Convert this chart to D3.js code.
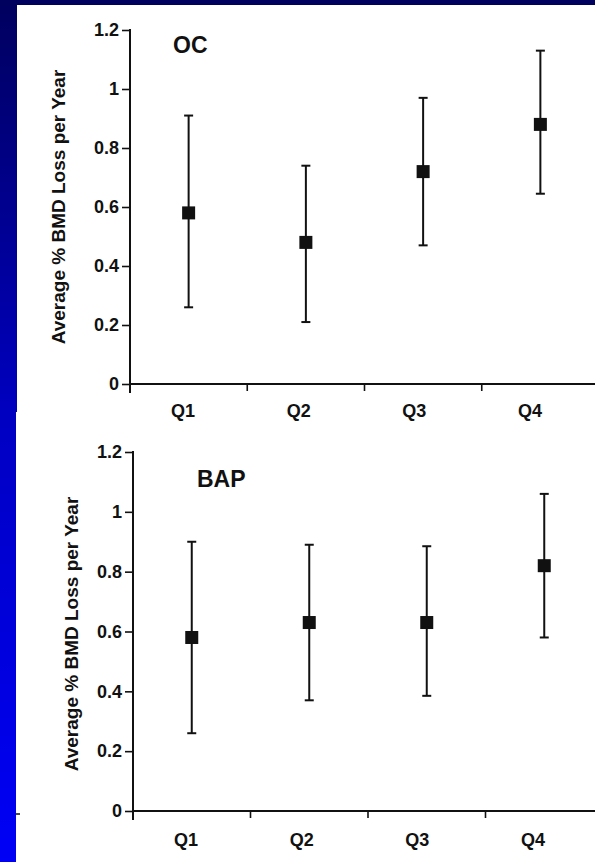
<!DOCTYPE html>
<html>
<head>
<meta charset="utf-8">
<script src="https://cdn.jsdelivr.net/npm/d3@7/dist/d3.min.js"></script>
<style>
  html, body { margin: 0; padding: 0; background: #fff; }
  svg { display: block; }
  text { font-family: "Liberation Sans", Arial, Helvetica, sans-serif; fill: #111; }
  .ytick text { font-size: 18px !important; font-weight: bold; }
</style>
</head>
<body>
<svg id="chart" width="595" height="862"></svg>
<script>
// ---------- data ----------
const categories = ["Q1", "Q2", "Q3", "Q4"];
const yTicks = [0, 0.2, 0.4, 0.6, 0.8, 1, 1.2];
const yTickLabels = ["0", "0.2", "0.4", "0.6", "0.8", "1", "1.2"];
const yLabel = "Average % BMD Loss per Year";

const ocMean  = [0.58, 0.48, 0.72, 0.88];
const ocLow   = [0.26, 0.21, 0.47, 0.645];
const ocHigh  = [0.91, 0.74, 0.97, 1.13];

const bapMean = [0.58, 0.63, 0.63, 0.82];
const bapLow  = [0.26, 0.37, 0.385, 0.58];
const bapHigh = [0.90, 0.89, 0.885, 1.06];

const panels = [
  { title: "OC",  mean: ocMean,  low: ocLow,  high: ocHigh,
    left: 130, right: 599, top: 30, bottom: 384, titleX: 173, titleY: 53,
    labelX: 58, labelY: 207, catLabelY: 417 },
  { title: "BAP", mean: bapMean, low: bapLow, high: bapHigh,
    left: 133, right: 603, top: 452, bottom: 811, titleX: 197, titleY: 487,
    labelX: 71, labelY: 634, catLabelY: 846 }
];

// ---------- background ----------
const svg = d3.select("#chart");
const defs = svg.append("defs");
const grad = defs.append("linearGradient").attr("id", "bg")
  .attr("x1", 0).attr("y1", 0).attr("x2", 0).attr("y2", 1);
grad.append("stop").attr("offset", "0%").attr("stop-color", "#00005e");
grad.append("stop").attr("offset", "50%").attr("stop-color", "#0000c4");
grad.append("stop").attr("offset", "100%").attr("stop-color", "#0000f6");
svg.append("rect").attr("width", 595).attr("height", 862).attr("fill", "url(#bg)");
svg.append("rect").attr("x", 17).attr("y", 5).attr("width", 578).attr("height", 408).attr("fill", "#fff");
svg.append("rect").attr("x", 16).attr("y", 412).attr("width", 579).attr("height", 450).attr("fill", "#fff");
svg.append("line").attr("x1", 16).attr("x2", 20).attr("y1", 814).attr("y2", 814)
  .attr("stroke", "#111").attr("stroke-width", 1.5);

// ---------- panels ----------
panels.forEach(p => {
  const g = svg.append("g");
  const x = d3.scaleBand().domain(categories).range([p.left, p.right]);
  const y = d3.scaleLinear().domain([0, 1.2]).range([p.bottom, p.top]);
  const labelScale = d3.scalePoint().domain(categories)
    .range([p.left + 53, p.left + 400]);

  // y axis
  const yAxis = d3.axisLeft(y).tickValues(yTicks)
    .tickFormat((d, i) => yTickLabels[i]).tickSizeInner(8).tickSizeOuter(0).tickPadding(3);
  const ya = g.append("g").attr("class", "ytick")
    .attr("transform", `translate(${p.left},0)`).call(yAxis);
  ya.attr("font-size", 18).attr("font-family", null);
  ya.select(".domain").remove();
  ya.selectAll(".tick line").attr("stroke", "#111").attr("stroke-width", 1.6);
  ya.selectAll(".tick text").attr("fill", "#111");
  g.append("line").attr("x1", p.left).attr("x2", p.left)
    .attr("y1", y(1.2) - 1).attr("y2", p.bottom + 9)
    .attr("stroke", "#111").attr("stroke-width", 2);

  // x axis
  g.append("line").attr("x1", p.left).attr("x2", 595)
    .attr("y1", p.bottom).attr("y2", p.bottom)
    .attr("stroke", "#111").attr("stroke-width", 2);
  g.selectAll(".xtick").data(categories.slice(1)).enter().append("line")
    .attr("x1", d => x(d)).attr("x2", d => x(d))
    .attr("y1", p.bottom).attr("y2", p.bottom + 7)
    .attr("stroke", "#111").attr("stroke-width", 1.6);
  g.selectAll(".xlab").data(categories).enter().append("text")
    .attr("x", d => labelScale(d)).attr("y", p.catLabelY)
    .attr("text-anchor", "middle").attr("font-size", 18).attr("font-weight", "bold")
    .text(d => d);

  // y label
  g.append("text")
    .attr("transform", `translate(${p.labelX},${p.labelY}) rotate(-90)`)
    .attr("text-anchor", "middle").attr("dominant-baseline", "central")
    .attr("font-size", 19).attr("font-weight", "bold")
    .text(yLabel);

  // title
  g.append("text").attr("x", p.titleX).attr("y", p.titleY)
    .attr("font-size", 23).attr("font-weight", "bold").text(p.title);

  // error bars
  const cx = d => x(d) + x.bandwidth() / 2;
  const eb = g.selectAll(".eb").data(categories).enter().append("g");
  eb.append("line").attr("x1", cx).attr("x2", cx)
    .attr("y1", (d, i) => y(p.low[i])).attr("y2", (d, i) => y(p.high[i]))
    .attr("stroke", "#111").attr("stroke-width", 2);
  eb.append("line").attr("x1", d => cx(d) - 4.5).attr("x2", d => cx(d) + 4.5)
    .attr("y1", (d, i) => y(p.high[i])).attr("y2", (d, i) => y(p.high[i]))
    .attr("stroke", "#111").attr("stroke-width", 2);
  eb.append("line").attr("x1", d => cx(d) - 4.5).attr("x2", d => cx(d) + 4.5)
    .attr("y1", (d, i) => y(p.low[i])).attr("y2", (d, i) => y(p.low[i]))
    .attr("stroke", "#111").attr("stroke-width", 2);
  eb.append("rect").attr("x", d => cx(d) - 6.5).attr("y", (d, i) => y(p.mean[i]) - 6.5)
    .attr("width", 13).attr("height", 13).attr("fill", "#111");
});
</script>
</body>
</html>
